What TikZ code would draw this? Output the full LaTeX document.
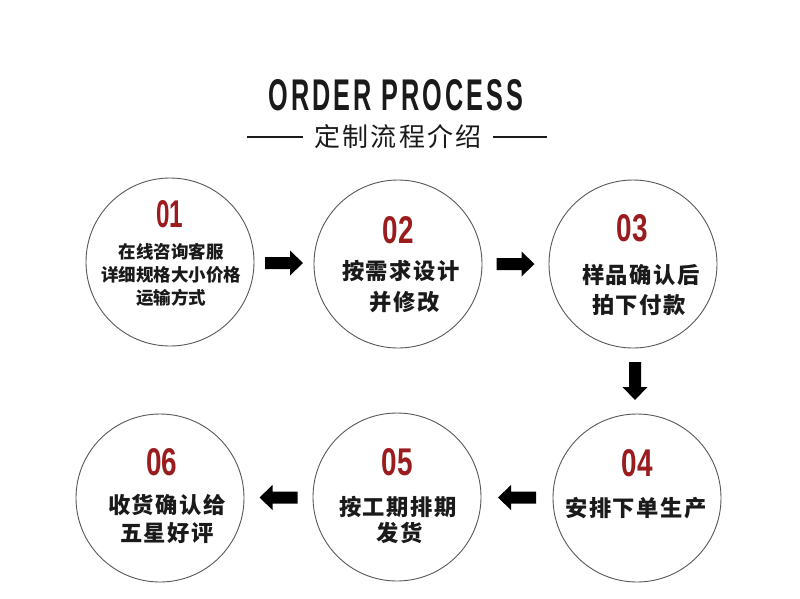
\documentclass[tikz,border=0pt]{standalone}
\usepackage{fontspec}
\usepackage{graphicx}
\usetikzlibrary{calc}
\newfontfamily\cjk{Noto Sans CJK SC}
\newfontfamily\cjkls[LetterSpace=7]{Noto Sans CJK SC}
\newfontfamily\cjksub[LetterSpace=8]{Noto Sans CJK SC}
\newfontfamily\titlefont[LetterSpace=12]{Liberation Sans}
\newfontfamily\numfont{Liberation Sans}
\definecolor{numred}{HTML}{9B1C1F}
\definecolor{inkc}{HTML}{1A1A1A}
\newcommand{\stepnum}[2]{\resizebox{#1pt}{27pt}{\numfont\bfseries #2}}
\tikzset{
  stepcircle/.style={circle, draw=black!65, line width=0.9pt, minimum size=168pt, inner sep=0pt},
  numlabel/.style={text=numred, inner sep=0pt},
  steptext/.style={inner sep=0pt, text=inkc, font=\cjkls\bfseries\fontsize{22.3}{24}\selectfont},
  smalltext/.style={inner sep=0pt, text=inkc, font=\cjk\bfseries\fontsize{17.5}{23}\selectfont},
  blockarrow/.pic={\fill[black] (-19,-6) -- (6,-6) -- (6,-12.5) -- (19,0) -- (6,12.5) -- (6,6) -- (-19,6) -- cycle;},
  ruleline/.style={line width=1.6pt, draw=inkc}
}
\begin{document}
\begin{tikzpicture}[x=1pt,y=-1pt]
\useasboundingbox (0,0) rectangle (800,598);
\fill[white] (0,0) rectangle (800,598);
% title
\node[inner sep=0pt, text=inkc] (title) at (396,95) {\resizebox{255pt}{31pt}{\titlefont\bfseries ORDER PROCESS}};
\node[inner sep=0pt, text=inkc] (sub) at (398,137) {\cjksub\fontsize{26}{26}\selectfont 定制流程介绍};
\draw[ruleline] (247,137) -- ([xshift=-12pt]sub.west);
\draw[ruleline] ([xshift=12pt]sub.east) -- (547,137);
% circles
\node[stepcircle] (c1) at (170,262) {};
\node[stepcircle] (c2) at (398,264) {};
\node[stepcircle] (c3) at (633,264) {};
\node[stepcircle] (c4) at (637,498) {};
\node[stepcircle] (c5) at (397,497) {};
\node[stepcircle] (c6) at (160,498) {};
% step 1
\node[numlabel] (n1) at (170,214) {\stepnum{27}{01}};
\node[smalltext] (t1a) at (171,252) {在线咨询客服};
\node[smalltext] (t1b) at (171,275) {详细规格大小价格};
\node[smalltext] (t1c) at (171,298) {运输方式};
% step 2
\node[numlabel] (n2) at (398,230) {\stepnum{31}{02}};
\node[steptext] (t2a) at (401,271) {按需求设计};
\node[steptext] (t2b) at (405,302) {并修改};
% step 3
\node[numlabel] (n3) at (632,228) {\stepnum{31}{03}};
\node[steptext] (t3a) at (641,275) {样品确认后};
\node[steptext] (t3b) at (639,305) {拍下付款};
% step 4
\node[numlabel] (n4) at (637,463) {\stepnum{31}{04}};
\node[steptext] (t4a) at (636,508) {安排下单生产};
% step 5
\node[numlabel] (n5) at (397,462) {\stepnum{31}{05}};
\node[steptext] (t5a) at (398,507) {按工期排期};
\node[steptext] (t5b) at (400,533) {发货};
% step 6
\node[numlabel] (n6) at (162,462) {\stepnum{31}{06}};
\node[steptext] (t6a) at (167,505) {收货确认给};
\node[steptext] (t6b) at (167,533) {五星好评};
% arrows
\pic at ($(c1.east)!0.5!(c2.west)$) {blockarrow};
\pic at ($(c2.east)!0.5!(c3.west)$) {blockarrow};
\pic[rotate=-90] at ($(c3.south)!0.5!(c4.north)$) {blockarrow};
\pic[rotate=180] at ($(c4.west)!0.5!(c5.east)$) {blockarrow};
\pic[rotate=180] at ($(c5.west)!0.5!(c6.east)$) {blockarrow};
\end{tikzpicture}
\end{document}
